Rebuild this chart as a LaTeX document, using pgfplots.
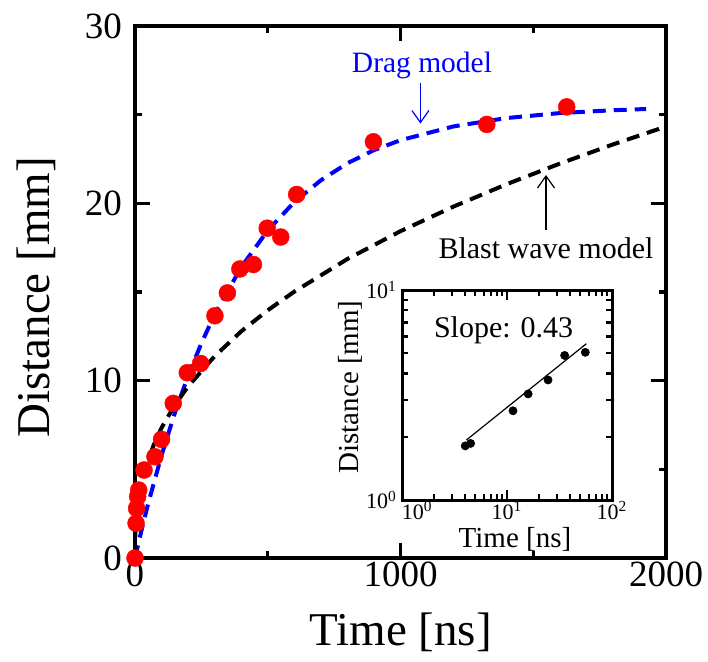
\documentclass[border=0pt]{standalone}
\usepackage{fontspec}
\setmainfont{Liberation Serif}
\usepackage{pgfplots}
\pgfplotsset{compat=1.18}
\usetikzlibrary{arrows.meta}
\begin{document}
\begin{tikzpicture}
\path[use as bounding box] (0,0) rectangle (354pt,330.5pt);
\begin{axis}[
  at={(67.5pt,51.5pt)}, anchor=south west, scale only axis,
  width=265.5pt, height=266pt,
  xmin=0, xmax=2000, ymin=0, ymax=30,
  xtick={0,1000,2000}, minor xtick={500,1500},
  ytick={0,10,20,30}, minor ytick={5,15,25},
  tick align=inside, major tick length=7.5pt, minor tick length=3.5pt,
  axis line style={line width=1.8pt},
  every tick/.append style={line width=1.6pt, black},
  ticklabel style={font=\fontsize{18.5}{20}\selectfont},
  yticklabel style={xshift=-3pt},
  xticklabel style={yshift=1.5pt},
  /pgf/number format/assume math mode=true,
  /pgf/number format/1000 sep={},
  scaled x ticks=false,
  xlabel={Time [ns]}, ylabel={Distance [mm]},
  every axis x label/.style={at={(axis description cs:0.5,-0.139)}, anchor=center, font=\fontsize{23.5}{26}\selectfont},
  every axis y label/.style={at={(axis description cs:-0.186,0.49)}, rotate=90, anchor=center, font=\fontsize{23.5}{26}\selectfont},
  clip=false,
]
\addplot[only marks, mark=*, mark size=4.25pt, mark options={fill=red, draw=red, line width=0.2pt}] coordinates {
(0,0) (4,1.96) (6,2.8) (10,3.46) (14,3.83) (34,4.96) (75,5.71) (100,6.69) (144,8.72)
(197,10.45) (247,10.97) (301,13.66) (348,14.95) (395,16.3) (446,16.55) (498,18.6)
(549,18.1) (609,20.5) (898,23.47) (1325,24.45) (1626,25.44)
};
\addplot[color={rgb,255:red,0;green,0;blue,255}, line width=2pt, dash pattern=on 6.5pt off 4pt] coordinates {
(0,0) (25,1.59) (50,3.09) (100,5.79) (150,8.18) (200,10.27) (250,12.11) (300,13.73)
(400,16.40) (500,18.47) (600,20.07) (700,21.30) (800,22.26) (900,23.0) (1000,23.56)
(1200,24.34) (1400,24.81) (1600,25.09) (1800,25.25) (1925,25.32)
};
\addplot[black, line width=2pt, dash pattern=on 6.5pt off 4pt] coordinates {
(0,0) (0.3,0.72) (0.5,0.88) (2,1.53) (5,2.21) (10,2.92) (20,3.85) (40,5.09) (70,6.36)
(100,7.34) (150,8.63) (200,9.68) (300,11.38) (400,12.78) (500,13.97) (600,15.02)
(800,16.86) (1000,18.43) (1200,19.82) (1400,21.08) (1600,22.24) (1800,23.32) (1980,24.23)
};
\node[color={rgb,255:red,0;green,0;blue,255}, font=\fontsize{14.75}{16}\selectfont] at (axis cs:1081,27.8) {Drag model};
\draw[color={rgb,255:red,0;green,0;blue,255}, line width=0.6pt, -{Straight Barb[length=6pt,width=8.5pt]}] (axis cs:1075,26.8) -- (axis cs:1075,24.5);
\draw[black, line width=0.6pt, -{Straight Barb[length=6pt,width=8.5pt]}] (axis cs:1548,18.5) -- (axis cs:1548,21.6);
\node[anchor=base, font=\fontsize{15}{17}\selectfont] at (axis cs:1548,16.9) {Blast wave model};
\end{axis}
\begin{axis}[
  at={(201pt,80.5pt)}, anchor=south west, scale only axis,
  width=105pt, height=105pt,
  xmode=log, ymode=log, xmin=1, xmax=100, ymin=1, ymax=10,
  xtick={1,10,100},
  xticklabels={{\hphantom{10\textsuperscript{0}}10\textsuperscript{0}}, 10\textsuperscript{1}, 10\textsuperscript{2}},
  ytick={1,10}, yticklabels={10\textsuperscript{0}, 10\textsuperscript{1}},
  tick align=inside, major tick length=5pt, minor tick length=3pt,
  axis background/.style={fill=white},
  axis line style={line width=1.5pt},
  every tick/.append style={line width=1.1pt, black},
  ticklabel style={font=\fontsize{11}{12}\selectfont},
  xticklabel style={inner sep=0.5pt, yshift=0pt},
  yticklabel style={xshift=1pt},
  xlabel={Time [ns]}, ylabel={Distance [mm]},
  every axis x label/.style={at={(axis description cs:0.538,-0.188)}, anchor=center, inner sep=0pt, font=\fontsize{14.5}{16}\selectfont},
  every axis y label/.style={at={(axis description cs:-0.248,0.538)}, rotate=90, anchor=center, font=\fontsize{14.5}{16}\selectfont},
]
\addplot[only marks, mark=*, mark size=2pt, black] coordinates {
(4.0,1.81) (4.5,1.86) (11.4,2.66) (15.9,3.2) (24.6,3.73) (35.4,4.88) (55.7,5.05)
};
\addplot[black, line width=0.6pt] coordinates {(4.1,1.93) (57,5.55)};
\node[anchor=base west, font=\fontsize{15}{17}\selectfont] at (axis description cs:0.119,0.776) {Slope: 0.43};
\end{axis}
\end{tikzpicture}
\end{document}
